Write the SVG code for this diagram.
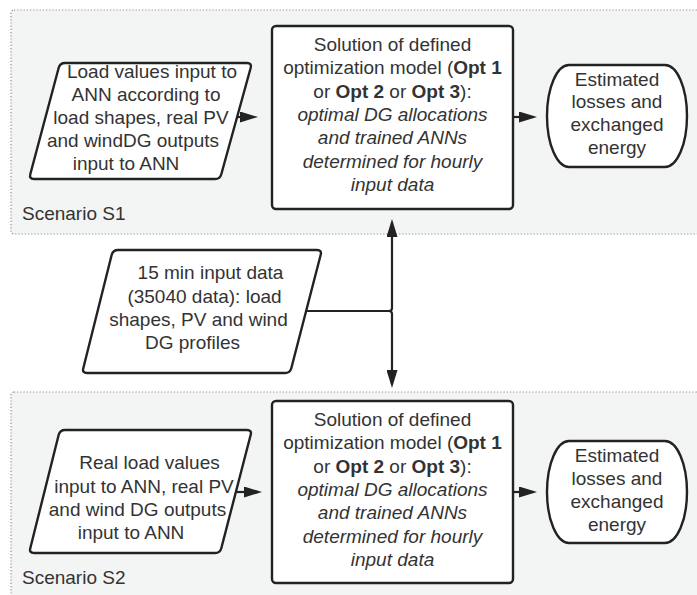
<svg xmlns="http://www.w3.org/2000/svg" width="697" height="595" viewBox="0 0 697 595">
  <defs>
    <marker id="arrow" markerUnits="userSpaceOnUse" markerWidth="18" markerHeight="11" refX="14" refY="5.5" orient="auto">
      <path d="M0,0 L18,5.5 L0,11 Z" fill="#222"/>
    </marker>
    <style>
      .bg { fill: #ffffff; }
      .lane { fill: #f3f4f4; stroke: #8c8c8c; stroke-width: 1.2; stroke-dasharray: 1.2 2; }
      .shape { fill: #ffffff; stroke: #222222; stroke-width: 2.4; stroke-linejoin: round; }
      .edge { fill: none; stroke: #222222; stroke-width: 2.2; }
      text { font-family: "Liberation Sans", Arial, sans-serif; font-size: 19px; fill: #333333; }
      .c { text-anchor: middle; }
      .b { font-weight: bold; }
      .i { font-style: italic; }
    </style>
  </defs>

  <rect class="bg" x="0" y="0" width="697" height="595"/>

  <!-- scenario lanes -->
  <g id="lane-s1">
    <rect class="lane" x="11" y="10" width="700" height="224" rx="3"/>
    <text x="22" y="220">Scenario S1</text>
  </g>
  <g id="lane-s2">
    <rect class="lane" x="11" y="392" width="700" height="230" rx="3"/>
    <text x="22" y="584">Scenario S2</text>
  </g>

  <!-- connectors -->
  <g id="connectors">
    <line class="edge" x1="230" y1="117" x2="254" y2="117" marker-end="url(#arrow)"/>
    <line class="edge" x1="513" y1="117" x2="533" y2="117" marker-end="url(#arrow)"/>
    <path class="edge" d="M306,311 L389,311 Q392,311 392,308 L392,223" marker-end="url(#arrow)"/>
    <path class="edge" d="M306,311 L389,311 Q392,311 392,314 L392,384" marker-end="url(#arrow)"/>
    <line class="edge" x1="237" y1="492" x2="258" y2="492" marker-end="url(#arrow)"/>
    <line class="edge" x1="513" y1="492" x2="533" y2="492" marker-end="url(#arrow)"/>
  </g>

  <!-- S1 input -->
  <g id="input-s1">
    <path class="shape" d="M65,63 L247,63 Q252,63 250.7,67.8 L221.3,174.2 Q220,179 215,179 L34,179 Q29,179 30.3,174.2 L58.7,67.8 Q60,63 65,63 Z"/>
    <text class="c" x="152" y="78">Load values input to</text>
    <text class="c" x="146" y="101">ANN according to</text>
    <text class="c" x="141" y="124">load shapes, real PV</text>
    <text class="c" x="133" y="147">and windDG outputs</text>
    <text class="c" x="126" y="170">input to ANN</text>
  </g>

  <!-- S1 optimisation -->
  <g id="solution-s1">
    <rect class="shape" x="272" y="26" width="241" height="183" rx="4"/>
    <text class="c" x="392.5" y="51">Solution of defined</text>
    <text class="c" x="392.5" y="74.3">optimization model (<tspan class="b">Opt 1</tspan></text>
    <text class="c" x="392.5" y="97.6">or <tspan class="b">Opt 2</tspan> or <tspan class="b">Opt 3</tspan>):</text>
    <text class="c i" x="392.5" y="121">optimal DG allocations</text>
    <text class="c i" x="392.5" y="144.2">and trained ANNs</text>
    <text class="c i" x="392.5" y="167.5">determined for hourly</text>
    <text class="c i" x="392.5" y="190.8">input data</text>
  </g>

  <!-- S1 result -->
  <g id="result-s1">
    <rect class="shape" x="547" y="65" width="140" height="102" rx="22" ry="51"/>
    <text class="c" x="617" y="86">Estimated</text>
    <text class="c" x="617" y="108">losses and</text>
    <text class="c" x="617" y="131">exchanged</text>
    <text class="c" x="617" y="154">energy</text>
  </g>

  <!-- shared 15 min input -->
  <g id="input-15min">
    <path class="shape" d="M118,250 L317,250 Q322,250 320.7,254.8 L291.3,368.2 Q290,373 285,373 L87,373 Q82,373 83.3,368.2 L111.7,254.8 Q113,250 118,250 Z"/>
    <text class="c" x="210.5" y="279">15 min input data</text>
    <text class="c" x="204.5" y="303">(35040 data): load</text>
    <text class="c" x="198.5" y="326">shapes, PV and wind</text>
    <text class="c" x="192.5" y="349">DG profiles</text>
  </g>

  <!-- S2 input -->
  <g id="input-s2">
    <path class="shape" d="M65,430 L247,430 Q252,430 250.7,434.8 L221.3,548.2 Q220,553 215,553 L34,553 Q29,553 30.3,548.2 L58.7,434.8 Q60,430 65,430 Z"/>
    <text class="c" x="149.5" y="469">Real load values</text>
    <text class="c" x="144" y="493">input to ANN, real PV</text>
    <text class="c" x="137.5" y="516">and wind DG outputs</text>
    <text class="c" x="131" y="539">input to ANN</text>
  </g>

  <!-- S2 optimisation -->
  <g id="solution-s2">
    <rect class="shape" x="272" y="401" width="241" height="182" rx="4"/>
    <text class="c" x="392.5" y="426">Solution of defined</text>
    <text class="c" x="392.5" y="449.3">optimization model (<tspan class="b">Opt 1</tspan></text>
    <text class="c" x="392.5" y="472.6">or <tspan class="b">Opt 2</tspan> or <tspan class="b">Opt 3</tspan>):</text>
    <text class="c i" x="392.5" y="496">optimal DG allocations</text>
    <text class="c i" x="392.5" y="519.2">and trained ANNs</text>
    <text class="c i" x="392.5" y="542.5">determined for hourly</text>
    <text class="c i" x="392.5" y="565.8">input data</text>
  </g>

  <!-- S2 result -->
  <g id="result-s2">
    <rect class="shape" x="547" y="441" width="140" height="102" rx="22" ry="51"/>
    <text class="c" x="617" y="462">Estimated</text>
    <text class="c" x="617" y="485">losses and</text>
    <text class="c" x="617" y="508">exchanged</text>
    <text class="c" x="617" y="531">energy</text>
  </g>
</svg>
